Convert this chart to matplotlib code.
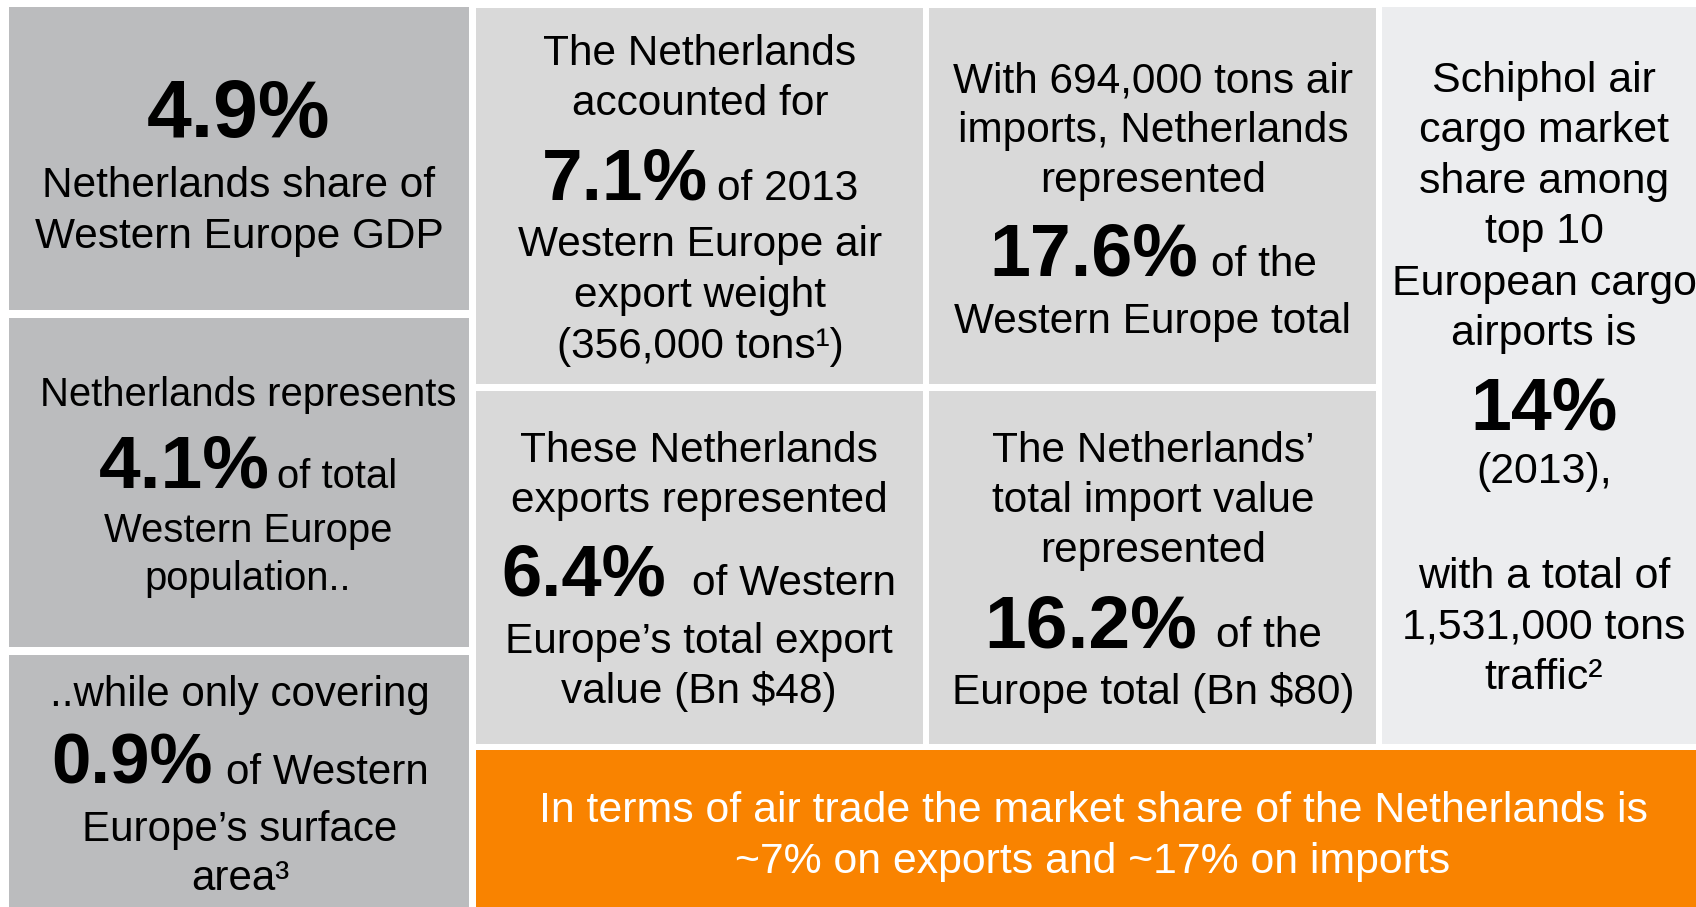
import matplotlib.pyplot as plt
from matplotlib.patches import Rectangle

plt.rcParams['font.family'] = ['Liberation Sans', 'DejaVu Sans']

W, H = 1696, 907

# key shares shown in bold
shares = ['4.9%', '4.1%', '0.9%', '7.1%', '6.4%', '17.6%', '16.2%', '14%']

# text of each tile, the None entry marks where the bold share goes
tile_a = [(None, ''), 'Netherlands share of', 'Western Europe GDP']
tile_b = ['Netherlands represents', (None, 'of total'), 'Western Europe', 'population..']
tile_c = ['..while only covering', (None, 'of Western'), 'Europe\u2019s surface', 'area\u00b3']
tile_d = ['The Netherlands', 'accounted for', (None, 'of 2013'), 'Western Europe air',
          'export weight', '(356,000 tons\u00b9)']
tile_f = ['These Netherlands', 'exports represented', (None, 'of Western'),
          'Europe\u2019s total export', 'value (Bn $48)']
tile_e = ['With 694,000 tons air', 'imports, Netherlands', 'represented', (None, 'of the'),
          'Western Europe total']
tile_g = ['The Netherlands\u2019', 'total import value', 'represented', (None, 'of the'),
          'Europe total (Bn $80)']
tile_h = ['Schiphol air', 'cargo market', 'share among', 'top 10', 'European cargo',
          'airports is', (None, ''), '(2013),', 'with a total of', '1,531,000 tons',
          'traffic\u00b2']
summary = ['In terms of air trade the market share of the Netherlands is',
           '~7% on exports and ~17% on imports']

GRAY_DARK = '#BBBCBE'
GRAY_MID = '#D9D9D9'
GRAY_LIGHT = '#ECEDEF'
ORANGE = '#F98300'

# (text lines, share index, box, colour, text centre x, baselines, body size, bold size, gap)
tiles = [
    (tile_a, 0, (9, 7, 469, 310), GRAY_DARK, 239, [137, 197, 248], 30.5, 58, 0),
    (tile_b, 1, (9, 318, 469, 647), GRAY_DARK, 248, [406, 488, 542, 590], 28.8, 54, 8),
    (tile_c, 2, (9, 655, 469, 915), GRAY_DARK, 240, [706, 784, 841, 890], 30.3, 51, 13),
    (tile_d, 3, (476, 8, 923, 384), GRAY_MID, 700, [65, 115, 200, 256, 307, 358], 30.5, 52.5, 9),
    (tile_f, 4, (476, 391, 923, 744), GRAY_MID, 699, [462, 512, 595, 653, 703], 30.5, 52, 26),
    (tile_e, 5, (929, 8, 1376, 384), GRAY_MID, 1153, [92, 142, 192, 276, 333], 30.5, 53, 13),
    (tile_g, 6, (929, 391, 1376, 744), GRAY_MID, 1153, [462, 512, 562, 647, 704], 30.5, 54, 18),
    (tile_h, 7, (1382, 7, 1720, 744), GRAY_LIGHT, 1544,
     [92, 142, 193, 243, 295, 345, 429, 483, 588, 639, 689], 30.9, 53, 0),
]

fig = plt.figure(figsize=(W / 100, H / 100), dpi=100)
ax = fig.add_axes([0, 0, 1, 1])
ax.set_xlim(0, W)
ax.set_ylim(H, 0)
ax.axis('off')
renderer = fig.canvas.get_renderer()


def draw_line(cx, y, big, rest, big_size, body_size, gap):
    tb = ax.text(0, y, big, fontsize=big_size, fontweight='bold', ha='left', va='baseline')
    wb = tb.get_window_extent(renderer).width
    if rest:
        tr = ax.text(0, y, rest, fontsize=body_size, ha='left', va='baseline')
        wr = tr.get_window_extent(renderer).width
    else:
        wr, gap = 0, 0
    x0 = cx - (wb + gap + wr) / 2
    tb.set_x(x0)
    if rest:
        tr.set_x(x0 + wb + gap)


for lines, si, (x0, y0, x1, y1), color, cx, ys, fs, bfs, gap in tiles:
    ax.add_patch(Rectangle((x0, y0), x1 - x0, y1 - y0, facecolor=color, edgecolor='none'))
    for line, y in zip(lines, ys):
        if isinstance(line, tuple):
            draw_line(cx, y, shares[si], line[1], bfs, fs, gap)
        else:
            ax.text(cx, y, line, fontsize=fs, ha='center', va='baseline')

# orange summary banner
ax.add_patch(Rectangle((476, 750), 1720 - 476, 170, facecolor=ORANGE, edgecolor='none'))
for line, y in zip(summary, [822, 873]):
    ax.text(1093, y, line, fontsize=30.8, color='white', ha='center', va='baseline')

fig.savefig('out.png', dpi=100, facecolor='white')
